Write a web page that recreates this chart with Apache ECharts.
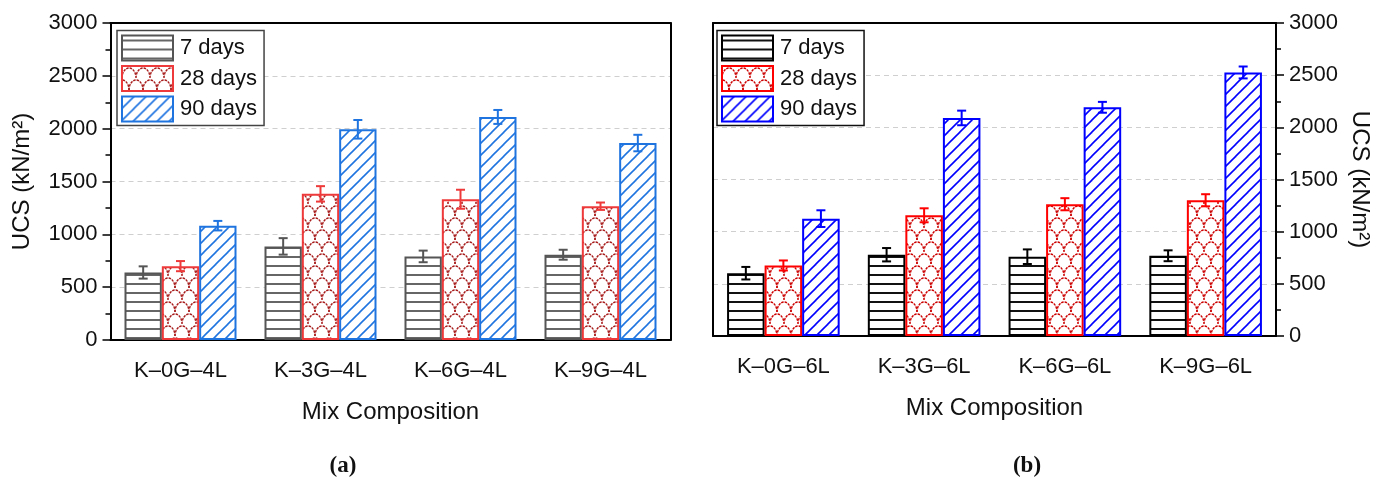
<!DOCTYPE html>
<html>
<head>
<meta charset="utf-8">
<script src="https://cdn.jsdelivr.net/npm/echarts@6/dist/echarts.min.js"></script>
<style>
  html, body { margin: 0; padding: 0; background: #fff; }
  #chart { width: 1392px; height: 479px; }
</style>
</head>
<body>
<div id="chart"></div>
<script>
// Unconfined compressive strength of the mixes, 4% and 6% lime
const ageLabels = ['7 days', '28 days', '90 days'];
const categoriesA = ['K\u20130G\u20134L', 'K\u20133G\u20134L', 'K\u20136G\u20134L', 'K\u20139G\u20134L'];
const categoriesB = ['K\u20130G\u20136L', 'K\u20133G\u20136L', 'K\u20136G\u20136L', 'K\u20139G\u20136L'];

// panel (a): mean UCS (kN/m²) and error (±)
const ucsA7 = [639, 886, 791, 807];
const ucsA28 = [699, 1383, 1332, 1266];
const ucsA90 = [1082, 1994, 2111, 1864];
const errA7 = [58, 78, 55, 47];
const errA28 = [48, 73, 90, 35];
const errA90 = [45, 88, 66, 78];

// panel (b)
const ucsB7 = [602, 779, 760, 769];
const ucsB28 = [676, 1157, 1263, 1301];
const ucsB90 = [1125, 2090, 2192, 2526];
const errB7 = [60, 64, 70, 52];
const errB28 = [48, 67, 58, 58];
const errB90 = [80, 70, 52, 57];

const yTicks = { min: 0, max: 3000, interval: 500 };

const FONT = '"Liberation Sans", Arial, sans-serif';

// ---- fill patterns ----
function tile(w, h) {
  const c = document.createElement('canvas');
  c.width = w; c.height = h;
  const g = c.getContext('2d');
  g.fillStyle = '#fff';
  g.fillRect(0, 0, w, h);
  return [c, g];
}
function hLines(color) {
  const [c, g] = tile(8, 9);
  g.fillStyle = color;
  g.fillRect(0, 4, 8, 2);
  return c;
}
function diagLines(color) {
  const [c, g] = tile(12, 12);
  g.strokeStyle = color;
  g.lineWidth = 1.6;
  for (const k of [-12, 0, 12]) {
    g.beginPath();
    g.moveTo(k - 1, 13);
    g.lineTo(k + 13, -1);
    g.stroke();
  }
  return c;
}
// rows of scale-shaped arcs, every other row shifted by half a cell
function scales(color) {
  const w = 14, h = 24, rx = 7, ry = 10;
  const [c, g] = tile(w, h);
  g.strokeStyle = color;
  g.lineWidth = 1.4;
  g.setLineDash([2.5, 1]);
  const arcs = [[7, 12], [0, 24], [14, 24], [7, 36], [0, 0], [14, 0]];
  for (const [cx, cy] of arcs) {
    g.beginPath();
    g.ellipse(cx, cy, rx, ry, 0, Math.PI, 2 * Math.PI);
    g.stroke();
  }
  return c;
}
const pat = (canvas) => ({ image: canvas, repeat: 'repeat' });

const styleA = [
  { line: '#555555', fill: pat(hLines('#666666')) },
  { line: '#ee3a3a', fill: pat(scales('#a81c1c')) },
  { line: '#1f74e0', fill: pat(diagLines('#1f74e0')) }
];
const styleB = [
  { line: '#000000', fill: pat(hLines('#111111')) },
  { line: '#ff0000', fill: pat(scales('#cc0000')) },
  { line: '#0000ff', fill: pat(diagLines('#0000ff')) }
];

function barSeries(tag, name, data, st, gi) {
  return {
    type: 'bar', name: tag + ':' + name, xAxisIndex: gi * 2, yAxisIndex: gi * 2,
    data: data, barGap: '0%', barCategoryGap: '20%',
    itemStyle: { color: st.fill, borderColor: st.line, borderWidth: 2 },
    emphasis: { disabled: true }, z: 2
  };
}

// error bars placed at the centre of each bar in the group of three
function errSeries(vals, errs, st, gi, slot) {
  return {
    type: 'custom', xAxisIndex: gi * 2, yAxisIndex: gi * 2, z: 5, silent: true,
    data: vals.map((v, i) => [i, v, errs[i]]),
    renderItem(params, api) {
      const i = api.value(0), v = api.value(1), e = api.value(2);
      const bandW = api.size([1, 0])[0];
      const barW = bandW * 0.8 / 3;
      const x = api.coord([i, v])[0] + (slot - 1) * barW;
      const top = api.coord([i, v + e])[1];
      const bot = api.coord([i, v - e])[1];
      const cap = 4.5;
      const s = { stroke: st.line, lineWidth: 2 };
      return {
        type: 'group', children: [
          { type: 'line', shape: { x1: x, y1: top, x2: x, y2: bot }, style: s },
          { type: 'line', shape: { x1: x - cap, y1: top, x2: x + cap, y2: top }, style: s },
          { type: 'line', shape: { x1: x - cap, y1: bot, x2: x + cap, y2: bot }, style: s }
        ]
      };
    }
  };
}

const frameLine = { show: true, onZero: false, lineStyle: { color: '#000', width: 2 } };

function xAxis(gi, cats) {
  return {
    type: 'category', gridIndex: gi, data: cats, position: 'bottom',
    axisLine: frameLine,
    axisTick: { alignWithLabel: true, length: 8, lineStyle: { color: '#000', width: 1.5 } },
    axisLabel: { color: '#111', fontSize: 22, fontFamily: FONT, margin: 20 },
    name: 'Mix Composition', nameLocation: 'middle', nameGap: 60,
    nameTextStyle: { color: '#111', fontSize: 24, fontFamily: FONT }
  };
}
// plain top edge of the plot frame
function xFrame(gi, cats) {
  return {
    type: 'category', gridIndex: gi, data: cats, position: 'top',
    axisLine: frameLine, axisTick: { show: false }, axisLabel: { show: false },
    splitLine: { show: false }, z: 5
  };
}
function yAxis(gi, pos, gap, rot) {
  return {
    type: 'value', gridIndex: gi, position: pos,
    min: yTicks.min, max: yTicks.max, interval: yTicks.interval,
    axisLine: frameLine,
    axisTick: { show: true, length: 8, lineStyle: { color: '#000', width: 1.5 } },
    minorTick: { show: true, splitNumber: 2, length: 5, lineStyle: { color: '#000', width: 1.5 } },
    axisLabel: { color: '#111', fontSize: 22, fontFamily: FONT, margin: 13, formatter: v => String(v) },
    splitLine: { show: true, lineStyle: { color: '#cfcfcf', type: [5, 4], width: 1.2 } },
    name: 'UCS (kN/m\u00b2)', nameLocation: 'middle', nameGap: gap, nameRotate: rot,
    nameTextStyle: { color: '#111', fontSize: 24, fontFamily: FONT }
  };
}
// plain side edge of the plot frame
function yFrame(gi, pos) {
  return {
    type: 'value', gridIndex: gi, position: pos,
    min: yTicks.min, max: yTicks.max, interval: yTicks.interval,
    axisLine: frameLine, axisTick: { show: false }, axisLabel: { show: false },
    splitLine: { show: false }, z: 5
  };
}
function legend(tag, left, border) {
  return {
    left: left, top: 30.5, orient: 'vertical', icon: 'rect',
    data: ageLabels.map(n => tag + ':' + n),
    formatter: n => n.split(':')[1],
    itemWidth: 51, itemHeight: 25, itemGap: 3.5,
    padding: [4, 7, 3, 4],
    borderColor: border, borderWidth: 1.5, backgroundColor: '#fff',
    textStyle: { color: '#111', fontSize: 22, fontFamily: FONT, padding: [0, 0, 0, 2] },
    selectedMode: false
  };
}

const chart = echarts.init(document.getElementById('chart'), null, { renderer: 'canvas' });
chart.setOption({
  backgroundColor: '#fff',
  animation: false,
  grid: [
    { left: 110.5, top: 23, width: 560, height: 317 },
    { left: 713, top: 23, width: 563, height: 313 }
  ],
  xAxis: [xAxis(0, categoriesA), xFrame(0, categoriesA), xAxis(1, categoriesB), xFrame(1, categoriesB)],
  yAxis: [yAxis(0, 'left', 76, 90), yFrame(0, 'right'), yAxis(1, 'right', 72, -90), yFrame(1, 'left')],
  legend: [legend('a', 117, '#444'), legend('b', 717, '#111')],
  title: [
    { text: '{p|(}{b|a}{p|)}', left: 338, top: 450, textAlign: 'center',
      textStyle: { rich: { p: { fontSize: 23, fontFamily: '"Liberation Serif", serif', color: '#111' },
                           b: { fontSize: 23, fontFamily: '"Liberation Serif", serif', fontWeight: 'bold', color: '#111' } } } },
    { text: '{p|(}{b|b}{p|)}', left: 1022, top: 450, textAlign: 'center',
      textStyle: { rich: { p: { fontSize: 23, fontFamily: '"Liberation Serif", serif', color: '#111' },
                           b: { fontSize: 23, fontFamily: '"Liberation Serif", serif', fontWeight: 'bold', color: '#111' } } } }
  ],
  series: [
    barSeries('a', ageLabels[0], ucsA7, styleA[0], 0),
    barSeries('a', ageLabels[1], ucsA28, styleA[1], 0),
    barSeries('a', ageLabels[2], ucsA90, styleA[2], 0),
    errSeries(ucsA7, errA7, styleA[0], 0, 0),
    errSeries(ucsA28, errA28, styleA[1], 0, 1),
    errSeries(ucsA90, errA90, styleA[2], 0, 2),
    barSeries('b', ageLabels[0], ucsB7, styleB[0], 1),
    barSeries('b', ageLabels[1], ucsB28, styleB[1], 1),
    barSeries('b', ageLabels[2], ucsB90, styleB[2], 1),
    errSeries(ucsB7, errB7, styleB[0], 1, 0),
    errSeries(ucsB28, errB28, styleB[1], 1, 1),
    errSeries(ucsB90, errB90, styleB[2], 1, 2)
  ]
});
</script>
</body>
</html>
